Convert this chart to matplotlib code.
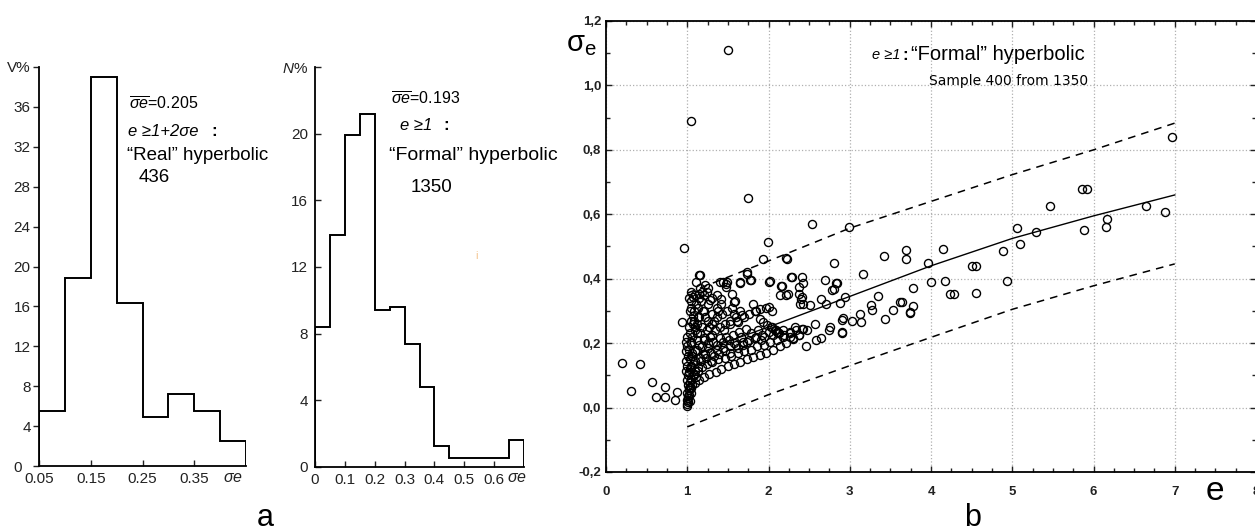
import matplotlib
matplotlib.use('Agg')
from matplotlib import pyplot as plt
from matplotlib.ticker import MultipleLocator
from matplotlib.transforms import ScaledTranslation

plt.rcParams['font.family'] = ['Liberation Sans', 'DejaVu Sans']
plt.rcParams['mathtext.fontset'] = 'custom'
plt.rcParams['mathtext.rm'] = 'Liberation Sans'
plt.rcParams['mathtext.it'] = 'Liberation Sans:italic'

W, H = 1255, 531

###############################################################################################
# histogram a1 : "Real" hyperbolic, 436 orbits
h1_edges = [0.05, 0.10, 0.15, 0.20, 0.25, 0.30, 0.35, 0.40, 0.45]
h1_vals = [5.5, 18.8, 39.0, 16.3, 4.9, 7.2, 5.5, 2.5]
h1_yticks = [0, 4, 8, 12, 16, 20, 24, 28, 32, 36, 40]
h1_ylabels = ['0', '4', '8', '12', '16', '20', '24', '28', '32', '36', 'V%']
h1_xticks = [0.05, 0.15, 0.25, 0.35]
h1_xlabels = ['0.05', '0.15', '0.25', '0.35']

# histogram a2 : "Formal" hyperbolic, 1350 orbits
h2_edges = [0.0, 0.05, 0.10, 0.15, 0.20, 0.25, 0.30, 0.35, 0.40, 0.45, 0.50, 0.55, 0.60, 0.65, 0.70]
h2_vals = [8.4, 13.9, 19.9, 21.2, 9.4, 9.6, 7.4, 4.8, 1.25, 0.55, 0.55, 0.55, 0.55, 1.6]
h2_yticks = [0, 4, 8, 12, 16, 20, 24]
h2_ylabels = ['0', '4', '8', '12', '16', '20', '$\\it{N}$%']
h2_xticks = [0, 0.1, 0.2, 0.3, 0.4, 0.5, 0.6]
h2_xlabels = ['0', '0.1', '0.2', '0.3', '0.4', '0.5', '0.6']

# panel b : sample of 400, sigma_e vs e
sparse_e = [0.20, 0.42, 0.31, 0.57, 0.73, 0.61, 0.73, 0.87, 0.85, 0.93,
            1.50, 1.04, 1.75, 0.96, 2.53, 2.99, 1.99, 1.93, 2.23, 2.81, 1.73, 1.16, 3.16, 3.42, 3.69, 3.69,
            1.44, 1.65, 1.79, 2.00, 2.15, 2.29, 2.41, 2.37, 2.69, 2.83, 2.80,
            6.97, 5.86, 5.92, 5.46, 6.65, 6.88, 6.16, 6.15, 5.88, 5.29, 5.06, 5.10, 4.88, 4.15, 3.96,
            4.51, 4.55, 4.00, 4.17, 4.94, 3.78, 3.64, 3.78, 3.74, 4.23, 4.28, 4.55]
sparse_s = [0.139, 0.134, 0.050, 0.079, 0.064, 0.032, 0.032, 0.047, 0.023, 0.266,
            1.11, 0.89, 0.65, 0.494, 0.57, 0.56, 0.514, 0.46, 0.462, 0.448, 0.42, 0.41, 0.416, 0.47, 0.49, 0.46,
            0.39, 0.389, 0.397, 0.39, 0.378, 0.406, 0.404, 0.373, 0.396, 0.387, 0.368,
            0.84, 0.68, 0.68, 0.627, 0.627, 0.607, 0.584, 0.561, 0.55, 0.546, 0.556, 0.507, 0.486, 0.491, 0.448,
            0.44, 0.44, 0.389, 0.394, 0.394, 0.371, 0.327, 0.314, 0.293, 0.351, 0.351, 0.355]

mid_e = [2.46, 2.58, 2.65, 2.75, 2.76, 2.90, 2.91, 2.91, 2.92, 2.57, 3.03, 3.14, 3.12, 3.27, 3.26, 3.35, 3.43,
         3.53, 3.62, 3.74, 2.22, 2.02, 2.16, 2.14, 2.22, 2.28, 2.42, 2.41, 2.43, 2.51, 2.65, 2.71, 2.88, 2.94,
         2.84, 2.78, 2.01, 2.04, 2.03, 2.09, 2.12, 2.18, 2.26, 2.30, 2.37, 2.41, 2.47, 2.37, 2.40, 2.39, 2.24]
mid_s = [0.19, 0.211, 0.217, 0.242, 0.25, 0.23, 0.235, 0.273, 0.279, 0.26, 0.269, 0.266, 0.291, 0.304, 0.317,
         0.345, 0.276, 0.302, 0.327, 0.296, 0.464, 0.392, 0.378, 0.348, 0.35, 0.406, 0.387, 0.342, 0.322, 0.317,
         0.338, 0.322, 0.324, 0.343, 0.386, 0.365, 0.312, 0.30, 0.25, 0.24, 0.23, 0.24, 0.219, 0.214, 0.225,
         0.245, 0.24, 0.353, 0.338, 0.322, 0.353]

band_e = [1.05, 1.10, 1.15, 1.20, 1.27, 1.35, 1.42, 1.50, 1.58, 1.65, 1.73, 1.81, 1.89, 1.97, 2.06, 2.14, 2.22, 2.30, 2.38,
          1.04, 1.08, 1.13, 1.18, 1.24, 1.31, 1.38, 1.46, 1.54, 1.62, 1.70, 1.78, 1.86, 1.94, 2.02, 2.10, 2.18, 2.26, 2.34, 2.42,
          1.05, 1.10, 1.16, 1.22, 1.29, 1.36, 1.44, 1.52, 1.60, 1.68, 1.76, 1.84, 1.92, 2.00, 2.08,
          1.06, 1.12, 1.18, 1.25, 1.32, 1.40, 1.48, 1.56, 1.64, 1.72]
band_s = [0.060, 0.075, 0.085, 0.095, 0.105, 0.110, 0.120, 0.130, 0.135, 0.142, 0.150, 0.157, 0.163, 0.170, 0.178, 0.190, 0.200, 0.215, 0.225,
          0.090, 0.105, 0.115, 0.125, 0.135, 0.140, 0.150, 0.155, 0.160, 0.170, 0.175, 0.180, 0.190, 0.195, 0.205, 0.210, 0.220, 0.230, 0.240, 0.245,
          0.130, 0.145, 0.155, 0.165, 0.170, 0.180, 0.185, 0.190, 0.195, 0.205, 0.210, 0.220, 0.225, 0.235, 0.240,
          0.170, 0.180, 0.190, 0.200, 0.205, 0.215, 0.220, 0.225, 0.235, 0.245]

core_e = [1.00, 1.00, 1.01, 1.00, 1.01, 1.00, 1.02, 1.01, 1.00, 1.01, 0.99, 1.00, 0.99, 1.01, 0.99, 1.00, 0.98, 1.00,
          1.02, 1.03, 1.03, 1.02, 1.04, 1.03, 1.02, 1.04, 1.03, 1.02, 1.04, 1.03,
          1.06, 1.09, 1.12, 1.15, 1.08, 1.11, 1.14, 1.18, 1.22, 1.05, 1.10, 1.16, 1.21, 1.26, 1.31,
          1.07, 1.13, 1.19, 1.25, 1.30, 1.36, 1.42, 1.12, 1.18, 1.24, 1.30, 1.36, 1.43, 1.49, 1.55,
          1.20, 1.28, 1.34, 1.40, 1.47, 1.53, 1.60, 1.05, 1.07, 1.14, 1.24, 1.28, 1.36, 1.42, 1.15]
core_s = [0.005, 0.012, 0.018, 0.025, 0.035, 0.045, 0.055, 0.070, 0.085, 0.100, 0.115, 0.130, 0.145, 0.160, 0.175, 0.190, 0.205, 0.220,
          0.040, 0.065, 0.080, 0.110, 0.125, 0.150, 0.180, 0.200, 0.230, 0.250, 0.270, 0.300,
          0.22, 0.24, 0.26, 0.28, 0.30, 0.32, 0.34, 0.36, 0.38, 0.33, 0.35, 0.37, 0.30, 0.32, 0.34,
          0.26, 0.28, 0.30, 0.27, 0.29, 0.31, 0.32, 0.23, 0.25, 0.24, 0.26, 0.28, 0.29, 0.30, 0.31,
          0.21, 0.22, 0.24, 0.25, 0.26, 0.27, 0.28, 0.358, 0.343, 0.353, 0.358, 0.334, 0.348, 0.338, 0.412]

fan_e = [1.55, 1.59, 1.65, 1.67, 1.61, 1.81, 1.85, 1.89, 1.93, 1.98, 2.04, 2.10, 1.48, 1.57, 1.73,
         1.40, 1.49, 1.48, 1.65, 1.77, 1.70, 1.76, 1.83, 1.90, 1.97]
fan_s = [0.353, 0.332, 0.300, 0.286, 0.270, 0.322, 0.300, 0.276, 0.266, 0.255, 0.250, 0.235, 0.383, 0.327, 0.414,
         0.389, 0.391, 0.373, 0.386, 0.396, 0.280, 0.290, 0.300, 0.305, 0.310]

extra_e = [1.01, 1.03, 1.05, 1.02, 1.06, 1.04, 1.08, 1.03, 1.07, 1.09, 1.11, 1.06, 1.13, 1.10, 1.17, 1.14, 1.19,
           1.23, 1.21, 1.26, 1.29, 1.33, 1.31, 1.37, 1.39, 1.44, 1.46, 1.51, 1.53, 1.57, 1.62, 1.66, 1.69, 1.74,
           1.78, 1.83, 1.87, 1.91, 1.95, 2.05, 2.13, 2.19, 2.27, 2.33, 1.12, 1.16, 1.22, 1.27, 1.33, 1.38, 1.45,
           1.52, 1.58, 1.63, 1.09, 1.13, 1.17, 1.21, 1.26, 1.02, 1.05, 1.08, 1.11, 1.07, 1.04]
extra_s = [0.03, 0.02, 0.045, 0.06, 0.07, 0.09, 0.10, 0.12, 0.135, 0.115, 0.095, 0.16, 0.125, 0.175, 0.145, 0.195,
           0.165, 0.155, 0.215, 0.185, 0.145, 0.16, 0.225, 0.195, 0.165, 0.205, 0.175, 0.21, 0.17, 0.2, 0.185, 0.22,
           0.195, 0.205, 0.23, 0.215, 0.24, 0.21, 0.22, 0.225, 0.23, 0.225, 0.235, 0.25, 0.21, 0.23, 0.28, 0.25,
           0.27, 0.30, 0.24, 0.26, 0.29, 0.265, 0.25, 0.31, 0.33, 0.35, 0.37, 0.34, 0.31, 0.27, 0.39, 0.285, 0.205]

fit_e = [1.0, 1.44, 2.0, 3.0, 4.0, 5.0, 6.0, 7.0]
fit_s = [0.15, 0.20, 0.25, 0.345, 0.44, 0.525, 0.595, 0.66]
upper_e = [1.0, 2.0, 3.0, 4.0, 5.0, 6.0, 7.0]
upper_s = [0.355, 0.455, 0.557, 0.64, 0.723, 0.80, 0.883]
lower_e = [1.0, 2.0, 3.0, 4.0, 5.0, 6.0, 7.0]
lower_s = [-0.06, 0.04, 0.13, 0.218, 0.305, 0.378, 0.446]

b_yticks = [-0.2, 0.0, 0.2, 0.4, 0.6, 0.8, 1.0, 1.2]
b_ylabels = ['-0,2', '0,0', '0,2', '0,4', '0,6', '0,8', '1,0', '1,2']

###############################################################################################

fig = plt.figure(figsize=(W / 100, H / 100), dpi=100)


def ftext(x, y, s, **kw):
    kw.setdefault('va', 'center')
    fig.text(x / W, 1 - y / H, s, **kw)


def hist_axes(rect, edges, vals, xlim, ylim, xt, xl, yt, yl, ydir, ypad):
    ax = fig.add_axes(rect)
    ax.stairs(vals, edges, color='k', lw=1.4)
    ax.set_xlim(*xlim)
    ax.set_ylim(*ylim)
    ax.set_xticks(xt)
    ax.set_xticklabels(xl, fontsize=11)
    ax.set_yticks(yt)
    ax.set_yticklabels(yl, fontsize=11)
    ax.spines['top'].set_visible(False)
    ax.spines['right'].set_visible(False)
    for sp in ('left', 'bottom'):
        ax.spines[sp].set_linewidth(1.3)
    ax.tick_params(axis='x', direction='in', length=4, width=1, pad=4, colors='#222222')
    ax.tick_params(axis='y', direction=ydir, length=4, width=1, pad=ypad, colors='#222222')
    return ax


ax1 = hist_axes([39 / W, 1 - 466 / H, 207 / W, 399 / H], h1_edges, h1_vals, (0.05, 0.45), (0, 40),
                h1_xticks, h1_xlabels, h1_yticks, h1_ylabels, 'out', 2)
ax2 = hist_axes([315 / W, 1 - 467 / H, 209 / W, 400 / H], h2_edges, h2_vals, (0, 0.70), (0, 24),
                h2_xticks, h2_xlabels, h2_yticks, h2_ylabels, 'in', 5)

# the zero of the first histogram sits further left, clear of 0.05
zero_lab = ax1.get_yticklabels()[0]
zero_lab.set_transform(zero_lab.get_transform() + ScaledTranslation(-9 / 100, 0, fig.dpi_scale_trans))

# annotations of the histograms
ftext(233, 478, r'$\sigma e$', fontsize=11.5, ha='center', color='#222222')
ftext(517, 478, r'$\sigma e$', fontsize=11.5, ha='center', color='#222222')

ftext(129, 104, r'$\overline{\sigma e}$=0.205', fontsize=11.5)
ftext(128, 131, 'e \u22651+2\u03c3e', fontsize=12, style='italic')
ftext(211, 131, ':', fontsize=12, weight='bold')
ftext(127, 156, '\u201cReal\u201d hyperbolic', fontsize=13.5)
ftext(139, 178, '436', fontsize=13.5)

ftext(391, 99, r'$\overline{\sigma e}$=0.193', fontsize=11.5)
ftext(400, 126, 'e \u22651', fontsize=12, style='italic')
ftext(443, 126, ':', fontsize=12, weight='bold')
ftext(389, 156, '\u201cFormal\u201d hyperbolic', fontsize=14)
ftext(411, 187, '1350', fontsize=13.5)
ftext(477, 256, 'i', fontsize=8, color='#f4c590', ha='center')

ftext(265, 526, 'a', fontsize=22, ha='center', va='baseline')

###############################################################################################

ax3 = fig.add_axes([606 / W, 1 - 472 / H, 650 / W, 451 / H])
ax3.grid(True, which='major', ls=':', color='#b0b0b0', lw=0.9)
ax3.plot(upper_e, upper_s, color='k', lw=1.1, ls=(0, (5, 4)))
ax3.plot(lower_e, lower_s, color='k', lw=1.1, ls=(0, (5, 4)))
ax3.plot(fit_e, fit_s, color='k', lw=1.0)
groups = [(sparse_e, sparse_s), (mid_e, mid_s), (band_e, band_s), (core_e, core_s),
          (fan_e, fan_s), (extra_e, extra_s)]
for ee, ss in groups:
    ax3.plot(ee, ss, 'o', mfc='none', mec='k', ms=5.8, mew=1.0, zorder=3)

ax3.set_xlim(0, 8)
ax3.set_ylim(-0.2, 1.2)
ax3.xaxis.set_major_locator(MultipleLocator(1))
ax3.xaxis.set_minor_locator(MultipleLocator(0.25))
ax3.set_yticks(b_yticks)
ax3.set_yticklabels(b_ylabels)
ax3.yaxis.set_minor_locator(MultipleLocator(0.1))
ax3.tick_params(which='both', direction='in', top=True, right=True, colors='#222222', labelsize=9.5)
ax3.tick_params(which='major', length=4, width=1)
ax3.tick_params(which='minor', length=3, width=1)
ax3.tick_params(axis='x', pad=10)
for lab in ax3.get_xticklabels() + ax3.get_yticklabels():
    lab.set_fontweight('bold')
for sp in ax3.spines.values():
    sp.set_linewidth(1.3)

ftext(566, 44, r'$\mathregular{\sigma_e}$', fontsize=21)
ftext(872, 55, 'e \u22651', fontsize=10.5, style='italic')
ftext(902, 55, ':', fontsize=12, weight='bold')
ftext(911, 55, '\u201cFormal\u201d hyperbolic', fontsize=14.5)
ftext(929, 81, 'Sample 400 from 1350', fontsize=10, family='DejaVu Sans')
ftext(1215, 500, 'e', fontsize=24, ha='center', va='baseline')
ftext(973, 526, 'b', fontsize=22, ha='center', va='baseline')

plt.savefig('out.png', dpi=100)
